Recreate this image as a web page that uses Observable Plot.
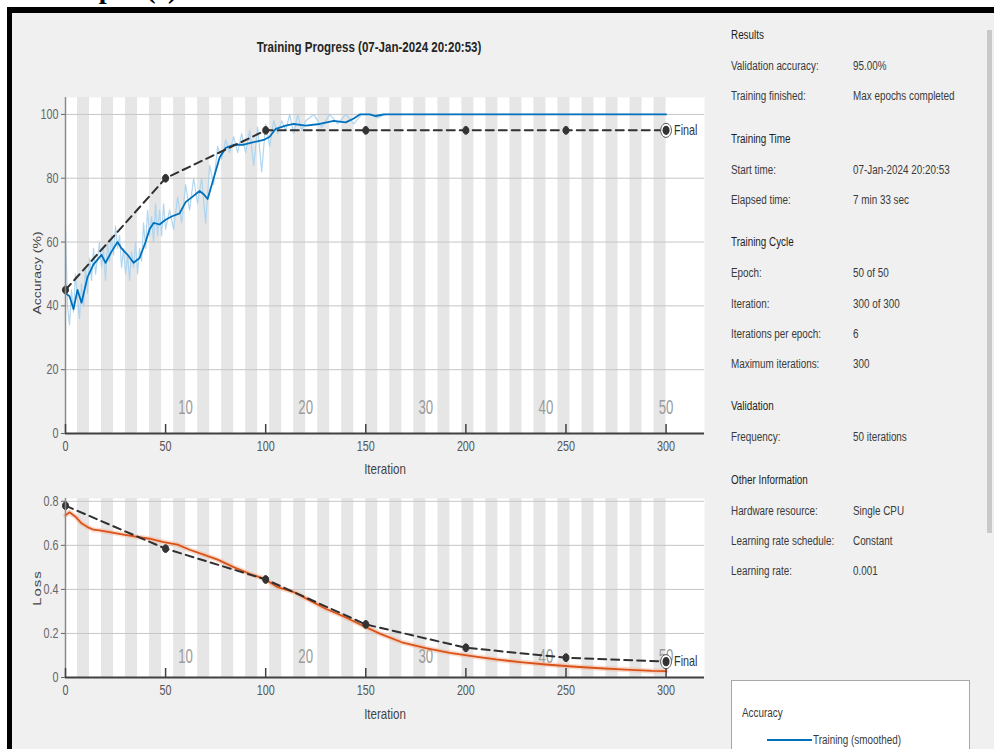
<!DOCTYPE html>
<html>
<head>
<meta charset="utf-8">
<script src="https://cdn.jsdelivr.net/npm/d3@7"></script>
<script src="https://cdn.jsdelivr.net/npm/@observablehq/plot@0.6"></script>
<style>
  html, body { margin: 0; padding: 0; background: #fff; }
  #page { position: relative; width: 994px; height: 749px; overflow: hidden; background: #fff;
          font-family: 'Liberation Sans', Arial, sans-serif; }
  #frame { position: absolute; left: 7px; top: 7px; width: 1000px; height: 760px;
           border-top: 6px solid #000; border-left: 5px solid #000; background: #f0f0f0; box-sizing: border-box; }
  .abs { position: absolute; white-space: nowrap; line-height: 16px; }
  .panel { font-size: 12.5px; color: #3a3a3a; transform-origin: 0 50%; }
  .hdr { color: #1e1e1e; }
  #topText { position: absolute; left: 52px; top: -25px; font-family: 'Liberation Serif', 'Times New Roman', serif;
             font-weight: bold; font-size: 28px; color: #000; line-height: 28px; white-space: nowrap; }
  .plotbox { position: absolute; left: 0; }
</style>
</head>
<body>
<div id="page">
  <div id="topText">Output (c)</div>
  <div id="frame"></div>
</div>
<script>
// ---------------- data ----------------
const iterationsPerEpoch = 6;
const maxEpochs = 50;
const xTicks = [0, 50, 100, 150, 200, 250, 300];
const accTicks = [0, 20, 40, 60, 80, 100];
const lossTicks = [0, 0.2, 0.4, 0.6, 0.8];
const epochLabels = [10, 20, 30, 40, 50];

// Training accuracy (smoothed)
const accSmoothIter = [0, 2, 4, 6, 8, 11, 14, 18, 20, 23, 26, 28, 31, 34, 37, 40, 42, 44, 47, 50, 53, 57, 60, 63, 67, 69, 71, 74, 77, 80, 84, 89, 94, 99, 102, 105, 110, 114, 120, 127, 134, 140, 144, 147, 152, 155, 159, 300];
const accSmoothVal  = [44, 43, 39, 45, 41, 49, 53, 56, 53.5, 57, 60, 58, 56, 53.5, 55, 60, 64, 66, 65.5, 67, 68, 69, 72.5, 74, 76, 75, 73.5, 80, 86.5, 89.5, 90.5, 90.5, 91.3, 92, 93, 95.5, 96.5, 97, 96.5, 97, 98, 97.5, 98.7, 100, 100, 99.5, 100, 100];

// Training accuracy (raw, faint)
const accRawIter = [0, 1, 2, 3, 4, 5, 6, 7, 8, 9, 10, 11, 12, 13, 14, 15, 16, 17, 18, 19, 20, 21, 22, 23, 24, 25, 26, 27, 28, 29, 30, 31, 32, 33, 34, 35, 36, 37, 38, 39, 40, 41, 42, 43, 44, 45, 46, 47, 48, 49, 50, 52, 54, 56, 58, 60, 62, 64, 66, 68, 70, 72, 74, 76, 78, 80, 82, 84, 86, 88, 90, 92, 94, 96, 98, 100, 102, 104, 106, 108, 110, 112, 114, 116, 118, 120, 124, 128, 132, 136, 140, 144, 148, 152, 156, 160, 300];
const accRawVal  = [64, 40, 34, 45, 38, 50, 42, 36, 47, 40, 52, 44, 55, 48, 58, 50, 55, 60, 52, 58, 48, 60, 54, 62, 56, 65, 58, 62, 52, 58, 50, 56, 48, 57, 52, 60, 50, 58, 54, 66, 58, 70, 62, 68, 60, 72, 62, 70, 62, 72, 64, 70, 64, 74, 66, 78, 70, 80, 72, 80, 66, 84, 78, 90, 86, 92, 88, 93, 88, 94, 88, 95, 84, 96, 82, 97, 90, 98, 94, 98, 95, 100, 94, 100, 95, 98, 100, 96, 100, 97, 100, 97, 100, 100, 99, 100, 100];

// Training loss (smoothed)
const lossSmoothIter = [0, 2, 5, 8, 11, 14, 17, 22, 29, 36, 42, 49, 56, 62, 69, 76, 84, 92, 99, 106, 114, 122, 130, 139, 147, 157, 168, 180, 192, 203, 215, 227, 240, 253, 267, 280, 293, 300];
const lossSmoothVal  = [0.736, 0.75, 0.73, 0.70, 0.683, 0.671, 0.668, 0.66, 0.649, 0.638, 0.63, 0.615, 0.603, 0.58, 0.558, 0.535, 0.501, 0.471, 0.449, 0.41, 0.388, 0.35, 0.312, 0.277, 0.242, 0.199, 0.16, 0.133, 0.112, 0.097, 0.082, 0.07, 0.059, 0.05, 0.042, 0.036, 0.03, 0.029];

// Validation
const valIter = [0, 50, 100, 150, 200, 250, 300];
const valAcc  = [45, 80, 95, 95, 95, 95, 95];
const valLoss = [0.78, 0.585, 0.445, 0.241, 0.135, 0.09, 0.072];

// Info panel
const panelSections = ["Results", "Training Time", "Training Cycle", "Validation", "Other Information"];
const panelLabels = [
  ["Validation accuracy:", "Training finished:"],
  ["Start time:", "Elapsed time:"],
  ["Epoch:", "Iteration:", "Iterations per epoch:", "Maximum iterations:"],
  ["Frequency:"],
  ["Hardware resource:", "Learning rate schedule:", "Learning rate:"]
];
const panelValues = [
  ["95.00%", "Max epochs completed"],
  ["07-Jan-2024 20:20:53", "7 min 33 sec"],
  ["50 of 50", "300 of 300", "6", "300"],
  ["50 iterations"],
  ["Single CPU", "Constant", "0.001"]
];
const chartTitle = "Training Progress (07-Jan-2024 20:20:53)";
const legendTitle = "Accuracy";
const legendEntry = "Training (smoothed)";

// ---------------- build ----------------
const K = 0.77;          // horizontal squeeze of the screenshot
const FONT = "'Liberation Sans', Arial, sans-serif";
const page = document.getElementById("page");
const zip = (a, b) => a.map((v, i) => ({x: v, y: b[i]}));

function addText(txt, left, cy, cls, extra = {}) {
  const d = document.createElement("div");
  d.className = "abs " + (cls || "");
  d.textContent = txt;
  d.style.left = left + "px";
  d.style.top = (cy - 8) + "px";
  Object.assign(d.style, extra);
  page.appendChild(d);
  return d;
}

// squeezed elliptical marker
const ovalSymbol = {
  draw(ctx, size) {
    const r = Math.sqrt(size / Math.PI), rx = r * K, ry = r, c = 0.5523;
    ctx.moveTo(rx, 0);
    ctx.bezierCurveTo(rx, ry * c, rx * c, ry, 0, ry);
    ctx.bezierCurveTo(-rx * c, ry, -rx, ry * c, -rx, 0);
    ctx.bezierCurveTo(-rx, -ry * c, -rx * c, -ry, 0, -ry);
    ctx.bezierCurveTo(rx * c, -ry, rx, -ry * c, rx, 0);
    ctx.closePath();
  }
};

function squeezeTexts(svg) {
  svg.querySelectorAll("text").forEach(t => {
    const g = t.closest("[font-size]");
    const fs = g ? parseFloat(g.getAttribute("font-size")) : 12;
    const k = fs >= 20 ? 0.63 : K;
    let tr = t.getAttribute("transform") || "";
    const x = t.getAttribute("x");
    if (x != null && x !== "" && !isNaN(+x)) {
      tr += ` translate(${+x},0)`;
      t.removeAttribute("x");
    }
    t.setAttribute("transform", (tr + ` scale(${k},1)`).trim());
  });
}

// Title
addText(chartTitle, 369, 47, "", {transform: `translateX(-50%) scaleX(${K})`, fontSize: "15px", fontWeight: "bold", color: "#262626"});

const stripeEpochs = d3.range(1, maxEpochs + 1).filter(e => e % 2 === 0);
const xDomain = [0, 319.2];

function makePlot({top, height, marginTop, marginBottom, yDomain, yTicks, smooth, raw, smoothColor, rawColor, val, epochDy}) {
  const plotH = height - marginTop - marginBottom;
  const valData = zip(valIter, val);
  const finalPt = valData.slice(-1);
  const marks = [
    Plot.frame({fill: "white", stroke: null}),
    Plot.rect(stripeEpochs, {x1: e => (e - 1) * iterationsPerEpoch, x2: e => e * iterationsPerEpoch, y1: yDomain[0], y2: yDomain[1], fill: "#e6e6e6"}),
    Plot.gridY(yTicks, {stroke: "#c6c6c6", strokeOpacity: 1, strokeWidth: 1}),
    Plot.text(epochLabels, {x: d => d * iterationsPerEpoch, text: d => String(d), frameAnchor: "bottom", dy: epochDy, fontSize: 21, fill: "#9c9c9c"}),
  ];
  if (raw) marks.push(Plot.line(raw, {x: "x", y: "y", stroke: rawColor, strokeWidth: 1.2, strokeOpacity: 0.9}));
  else marks.push(Plot.line(smooth, {x: "x", y: "y", stroke: rawColor, strokeWidth: 5, strokeOpacity: 0.45}));
  marks.push(
    Plot.line(smooth, {x: "x", y: "y", stroke: smoothColor, strokeWidth: 1.8}),
    Plot.line(valData, {x: "x", y: "y", stroke: "#303030", strokeWidth: 2, strokeDasharray: "8,5"}),
    Plot.dot(valData.slice(0, -1), {x: "x", y: "y", r: 3.9, symbol: ovalSymbol, fill: "#333", stroke: "#333", strokeWidth: 1}),
    Plot.dot(finalPt, {x: "x", y: "y", r: 7, symbol: ovalSymbol, fill: "white", stroke: "#555", strokeWidth: 1}),
    Plot.dot(finalPt, {x: "x", y: "y", r: 4.6, symbol: ovalSymbol, fill: "#333"}),
    Plot.text(finalPt, {x: "x", y: "y", text: () => "Final", dx: 8, textAnchor: "start", fontSize: 14, fill: "#333"}),
    Plot.ruleX([0], {stroke: "#8a8a8a", strokeWidth: 1.5}),
    Plot.ruleY([yDomain[0]], {stroke: "#404040", strokeWidth: 2}),
    Plot.tickX(xTicks, {x: d => d, stroke: "#404040", strokeWidth: 1.5, insetTop: plotH - 9}),
    Plot.axisX(xTicks, {tickSize: 0, tickPadding: 8, fontSize: 14, color: "#555", label: null}),
    Plot.axisY(yTicks, {tickSize: 4, tickPadding: 3, fontSize: 14, color: "#666", label: null, tickFormat: d3.format("~g")})
  );
  const svg = Plot.plot({
    width: 720, height,
    marginLeft: 65, marginRight: 16, marginTop, marginBottom,
    x: {domain: xDomain},
    y: {domain: yDomain},
    style: {background: "transparent", fontFamily: FONT, fontSize: "14px", color: "#555"},
    marks
  });
  squeezeTexts(svg);
  const box = document.createElement("div");
  box.className = "plotbox";
  box.style.top = top + "px";
  box.appendChild(svg);
  page.appendChild(box);
}

// Accuracy plot
makePlot({
  top: 0, height: 480, marginTop: 97, marginBottom: 47,
  yDomain: [0, 105.3], yTicks: accTicks,
  smooth: zip(accSmoothIter, accSmoothVal), raw: zip(accRawIter, accRawVal),
  smoothColor: "#0072BD", rawColor: "#a9d2ee", val: valAcc, epochDy: -20
});
// Loss plot
makePlot({
  top: 480, height: 250, marginTop: 18, marginBottom: 53,
  yDomain: [0, 0.8127], yTicks: lossTicks,
  smooth: zip(lossSmoothIter, lossSmoothVal), raw: null,
  smoothColor: "#D95319", rawColor: "#f3b090", val: valLoss, epochDy: -15
});

// Axis titles
addText("Iteration", 385, 469, "", {transform: `translateX(-50%) scaleX(${K})`, fontSize: "15px", color: "#444"});
addText("Iteration", 385, 714, "", {transform: `translateX(-50%) scaleX(${K})`, fontSize: "15px", color: "#444"});
addText("Accuracy (%)", 37, 273, "", {transform: `translateX(-50%) scaleX(${K}) rotate(-90deg)`, fontSize: "14px", color: "#444"});
addText("Loss", 37, 588, "", {transform: `translateX(-50%) scaleX(${K}) rotate(-90deg)`, fontSize: "15px", letterSpacing: "1px", color: "#444"});

// Info panel
const sq = {transform: `scaleX(${K + 0.02})`};
let y = 35;
panelSections.forEach((sec, si) => {
  addText(sec, 731, y, "panel hdr", sq);
  y += 31;
  panelLabels[si].forEach((lab, ri) => {
    addText(lab, 731, y, "panel", sq);
    addText(panelValues[si][ri], 853, y, "panel", sq);
    y += 30.3;
  });
  y += 12;
});

// Legend box
const lg = document.createElement("div");
Object.assign(lg.style, {position: "absolute", left: "731px", top: "680px", width: "239px", height: "90px",
  background: "#fff", border: "1px solid #a8a8a8", boxSizing: "border-box"});
page.appendChild(lg);
addText(legendTitle, 742, 713, "panel", sq);
const ln = document.createElement("div");
Object.assign(ln.style, {position: "absolute", left: "767px", top: "739px", width: "45px", height: "2px", background: "#0072BD"});
page.appendChild(ln);
addText(legendEntry, 813, 740, "panel", sq);

// Scrollbar
const sb = document.createElement("div");
Object.assign(sb.style, {position: "absolute", left: "987px", top: "30px", width: "5px", height: "503px", background: "#c9c9c9"});
page.appendChild(sb);
</script>
</body>
</html>
